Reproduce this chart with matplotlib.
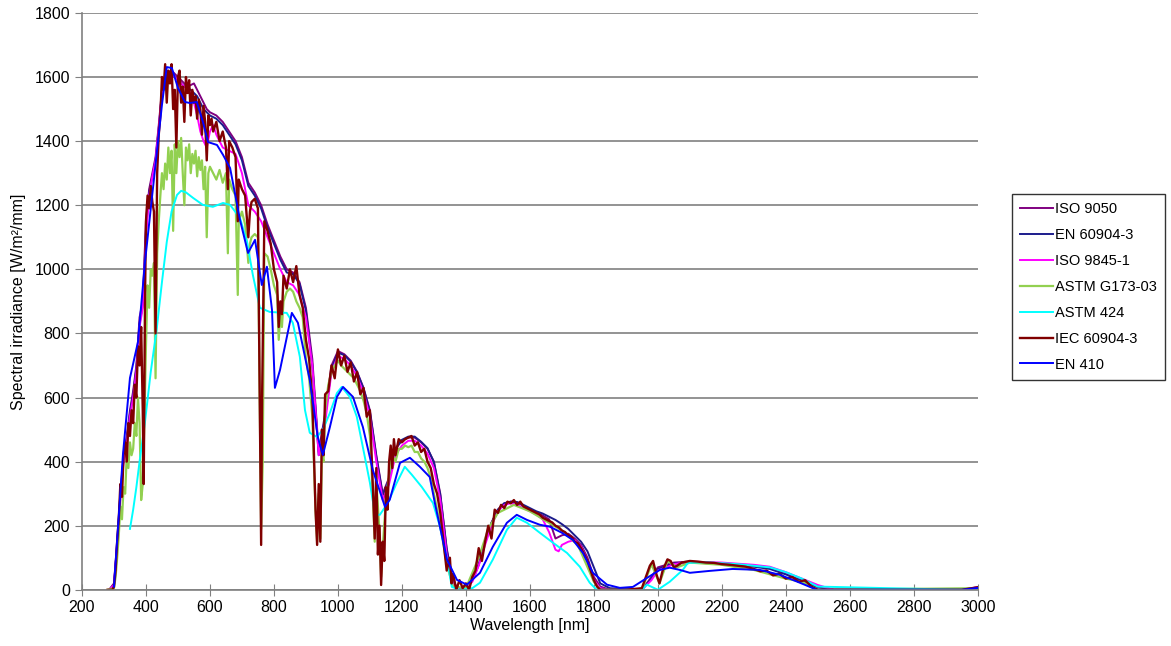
import matplotlib.pyplot as plt

plt.rcParams['font.family'] = ['Liberation Sans', 'DejaVu Sans']

# ISO 9050
iso9050_wl = [285, 300, 310, 320, 330, 340, 350, 360, 370, 380,
              390, 400, 410, 420, 430, 440, 450, 460, 470, 480,
              490, 500, 510, 520, 530, 540, 550, 560, 570, 580,
              590, 600, 620, 640, 660, 680, 700, 720, 740, 760,
              780, 800, 820, 840, 860, 880, 900, 920, 940, 960,
              980, 1000, 1020, 1040, 1060, 1080, 1100, 1120, 1140, 1160,
              1180, 1200, 1220, 1240, 1260, 1280, 1300, 1320, 1340, 1360,
              1380, 1400, 1420, 1440, 1460, 1480, 1500, 1520, 1540, 1560,
              1580, 1600, 1620, 1640, 1660, 1680, 1700, 1720, 1740, 1760,
              1780, 1800, 1820, 1850, 1950, 1980, 2000, 2050, 2100, 2200,
              2300, 2350, 2400, 2450, 2500, 2550, 2950, 3000]
iso9050_val = [0, 20, 150, 300, 420, 480, 560, 620, 700, 850,
               900, 1150, 1250, 1300, 1350, 1450, 1560, 1600, 1610, 1620,
               1610, 1600, 1590, 1580, 1570, 1575, 1580, 1560, 1540, 1520,
               1500, 1490, 1480, 1460, 1430, 1400, 1350, 1270, 1240, 1200,
               1140, 1090, 1040, 1000, 990, 960, 880, 720, 430, 550,
               700, 745, 735, 715, 680, 630, 560, 420, 300, 350,
               440, 465, 475, 475, 460, 440, 400, 300, 130, 20,
               5, 10, 30, 80, 150, 210, 250, 270, 275, 272,
               262, 250, 240, 232, 220, 160, 170, 175, 160, 140,
               100, 40, 10, 0, 0, 40, 70, 85, 88, 82,
               75, 68, 50, 30, 10, 0, 0, 8]

# EN 60904-3
en60904_wl = [285, 300, 310, 320, 330, 340, 350, 360, 370, 380,
              390, 400, 410, 420, 430, 440, 450, 460, 470, 480,
              490, 500, 520, 540, 560, 580, 600, 620, 640, 660,
              680, 700, 720, 740, 760, 780, 800, 820, 840, 860,
              880, 900, 920, 940, 960, 980, 1000, 1020, 1040, 1060,
              1080, 1100, 1120, 1140, 1160, 1180, 1200, 1220, 1240, 1260,
              1280, 1300, 1320, 1340, 1360, 1380, 1400, 1420, 1440, 1460,
              1480, 1500, 1520, 1540, 1560, 1580, 1600, 1620, 1640, 1660,
              1680, 1700, 1720, 1740, 1760, 1780, 1800, 1820, 1850, 1950,
              1980, 2000, 2050, 2100, 2200, 2300, 2350, 2400, 2450, 2500,
              2550, 2950, 3000]
en60904_val = [0, 15, 140, 290, 410, 470, 550, 610, 690, 830,
               890, 1120, 1240, 1290, 1340, 1440, 1550, 1590, 1600, 1610,
               1600, 1590, 1570, 1560, 1540, 1500, 1480, 1470, 1450, 1420,
               1390, 1340, 1260, 1230, 1190, 1130, 1080, 1030, 990, 985,
               955, 870, 700, 420, 540, 690, 740, 732, 712, 678,
               628, 555, 415, 295, 345, 440, 468, 478, 478, 462,
               442, 398, 295, 125, 15, 3, 8, 28, 78, 148,
               208, 250, 270, 275, 274, 265, 255, 245, 238, 228,
               218, 205, 190, 170, 150, 120, 70, 20, 5, 0,
               35, 65, 82, 86, 80, 72, 65, 48, 28, 8,
               0, 0, 6]

# ISO 9845-1
iso9845_wl = [285, 300, 310, 320, 330, 340, 350, 360, 370, 380,
              390, 400, 410, 420, 430, 440, 450, 460, 470, 480,
              490, 500, 510, 520, 530, 540, 550, 560, 570, 580,
              590, 600, 610, 620, 640, 660, 680, 700, 720, 740,
              760, 780, 800, 820, 840, 860, 880, 900, 920, 940,
              960, 980, 1000, 1020, 1040, 1060, 1080, 1100, 1120, 1140,
              1160, 1180, 1200, 1220, 1240, 1260, 1280, 1300, 1320, 1340,
              1360, 1380, 1400, 1420, 1440, 1460, 1480, 1500, 1520, 1540,
              1560, 1580, 1600, 1620, 1640, 1660, 1680, 1690, 1700, 1720,
              1740, 1760, 1780, 1800, 1820, 1850, 1950, 1980, 2000, 2050,
              2100, 2200, 2300, 2350, 2400, 2450, 2500, 2550, 2950, 3000]
iso9845_val = [0, 15, 140, 280, 400, 460, 540, 600, 680, 820,
               880, 1100, 1230, 1290, 1340, 1440, 1550, 1590, 1600, 1610,
               1600, 1590, 1580, 1570, 1560, 1550, 1520, 1480, 1430, 1400,
               1380, 1430, 1450, 1420, 1380, 1370, 1360, 1300, 1200, 1180,
               1150, 1100, 1050, 1000, 960, 950, 920, 850, 700, 420,
               520, 680, 730, 720, 700, 665, 615, 540, 400, 280,
               330, 420, 450, 465, 465, 450, 425, 380, 280, 110,
               15, 0, 5, 25, 75, 140, 200, 245, 265, 270,
               265, 255, 245, 235, 220, 180, 125, 120, 140, 150,
               155, 135, 90, 30, 5, 0, 0, 30, 60, 80,
               88, 85, 78, 72, 55, 35, 15, 0, 0, 8]

# ASTM G173-03
astm173_wl = [280, 300, 305, 310, 315, 320, 325, 330, 335, 340,
              345, 350, 355, 360, 365, 370, 375, 380, 385, 390,
              395, 400, 405, 410, 415, 420, 425, 430, 435, 440,
              445, 450, 455, 460, 465, 470, 475, 480, 485, 490,
              495, 500, 505, 510, 515, 520, 525, 530, 535, 540,
              545, 550, 555, 560, 565, 570, 575, 580, 585, 590,
              595, 600, 610, 620, 630, 640, 650, 656, 660, 670,
              680, 687, 690, 700, 710, 720, 725, 730, 740, 750,
              760, 765, 770, 780, 790, 800, 810, 815, 820, 825,
              830, 840, 850, 860, 870, 880, 890, 900, 910, 920,
              930, 935, 940, 945, 950, 955, 960, 970, 980, 990,
              1000, 1010, 1020, 1030, 1040, 1050, 1060, 1070, 1080, 1090,
              1100, 1110, 1115, 1120, 1130, 1135, 1140, 1150, 1160, 1170,
              1180, 1190, 1200, 1210, 1220, 1230, 1240, 1250, 1260, 1270,
              1280, 1290, 1300, 1320, 1340, 1360, 1400, 1440, 1470, 1500,
              1550, 1600, 1650, 1700, 1750, 1800, 1820, 1950, 1980, 2005,
              2030, 2060, 2100, 2200, 2300, 2400, 2450, 2500, 3000]
astm173_val = [0, 5, 40, 100, 170, 260, 220, 320, 300, 420,
               380, 460, 420, 440, 520, 480, 600, 520, 280, 330,
               520, 760, 950, 880, 1000, 980, 1020, 660, 1050, 1150,
               1230, 1300, 1250, 1330, 1280, 1380, 1300, 1370, 1120, 1390,
               1300, 1400, 1350, 1410, 1300, 1200, 1380, 1340, 1390, 1300,
               1360, 1330, 1370, 1290, 1350, 1310, 1340, 1250, 1320, 1100,
               1300, 1320, 1300, 1280, 1310, 1270, 1300, 1050, 1280, 1250,
               1230, 920, 1150, 1180, 1140, 1020, 1080, 1100, 1110, 1100,
               190, 400, 1050, 1040, 1000, 950, 920, 780, 860, 820,
               900, 930, 940, 930, 900, 880, 850, 720, 660, 540,
               250, 150, 300, 160, 420, 400, 560, 640, 680, 700,
               715, 700, 690, 680, 670, 660, 640, 620, 590, 550,
               480, 280, 150, 340, 180, 40, 130, 280, 360, 420,
               400, 440, 440, 450, 445, 450, 430, 430, 410, 400,
               380, 350, 300, 200, 80, 10, 5, 100, 190, 240,
               265, 245, 215, 185, 140, 25, 0, 0, 80, 20,
               90, 70, 85, 78, 62, 35, 25, 0, 5]

# ASTM 424
astm424_wl = [350, 360, 370, 380, 397, 415, 434, 450, 465, 480,
              497, 510, 525, 547, 578, 609, 641, 663, 694, 716,
              734, 756, 787, 840, 859, 881, 897, 912, 934, 953,
              975, 997, 1012, 1037, 1059, 1084, 1100, 1116, 1131, 1156,
              1184, 1209, 1231, 1262, 1297, 1319, 1341, 1356, 1381, 1420,
              1444, 1484, 1528, 1559, 1591, 1631, 1672, 1716, 1756, 1787,
              1809, 1950, 1966, 2000, 2037, 2078, 2094, 2150, 2250, 2350,
              2400, 2450, 2500, 2950, 3000]
astm424_val = [190, 250, 320, 400, 524, 680, 817, 960, 1085, 1180,
               1232, 1245, 1240, 1223, 1201, 1195, 1207, 1201, 1160, 1085,
               983, 880, 867, 864, 833, 727, 561, 490, 477, 499,
               552, 614, 633, 602, 540, 415, 334, 234, 234, 271,
               334, 384, 359, 321, 271, 197, 94, 9, 0, 5,
               22, 94, 187, 225, 209, 178, 147, 115, 72, 22,
               0, 0, 16, 0, 25, 62, 84, 86, 80, 70,
               55, 35, 10, 0, 6]

# IEC 60904-3
iec60904_wl = [280, 295, 300, 305, 310, 315, 320, 325, 330, 335,
               340, 345, 350, 355, 360, 365, 370, 375, 380, 385,
               390, 393, 397, 400, 405, 410, 415, 420, 425, 430,
               435, 440, 445, 450, 455, 460, 465, 470, 475, 480,
               485, 490, 495, 500, 505, 510, 515, 520, 525, 530,
               535, 540, 545, 550, 555, 560, 565, 570, 575, 580,
               585, 590, 595, 600, 605, 610, 620, 630, 640, 650,
               656, 660, 670, 680, 687, 690, 700, 710, 720, 725,
               730, 740, 750, 760, 763, 770, 780, 790, 800, 810,
               815, 820, 825, 830, 840, 850, 860, 870, 880, 890,
               900, 910, 920, 930, 935, 940, 945, 950, 955, 960,
               970, 980, 990, 1000, 1010, 1020, 1030, 1040, 1050, 1060,
               1070, 1080, 1090, 1100, 1110, 1115, 1120, 1125, 1130, 1135,
               1140, 1145, 1150, 1155, 1160, 1165, 1170, 1175, 1180, 1190,
               1200, 1210, 1220, 1230, 1240, 1250, 1260, 1270, 1280, 1290,
               1300, 1310, 1320, 1330, 1340, 1350, 1355, 1360, 1370, 1380,
               1390, 1400, 1410, 1420, 1430, 1440, 1450, 1460, 1470, 1480,
               1490, 1500, 1510, 1520, 1530, 1540, 1550, 1560, 1570, 1580,
               1590, 1600, 1610, 1620, 1630, 1640, 1650, 1660, 1670, 1680,
               1690, 1700, 1710, 1720, 1730, 1740, 1750, 1760, 1770, 1780,
               1790, 1800, 1810, 1820, 1900, 1950, 1975, 1985, 1995, 2005,
               2015, 2030, 2040, 2050, 2060, 2075, 2100, 2125, 2150, 2175,
               2200, 2225, 2250, 2275, 2300, 2320, 2340, 2360, 2380, 2400,
               2420, 2440, 2460, 2480, 2500, 2950, 3000]
iec60904_val = [0, 0, 10, 60, 150, 220, 330, 290, 420, 460,
                400, 520, 480, 560, 520, 640, 600, 760, 700, 820,
                560, 330, 900, 1150, 1230, 1190, 1260, 1210, 1180, 800,
                1300, 1420, 1480, 1600, 1560, 1640, 1520, 1620, 1580, 1640,
                1500, 1560, 1380, 1600, 1620, 1520, 1570, 1460, 1600, 1550,
                1590, 1480, 1560, 1520, 1540, 1470, 1530, 1500, 1420, 1510,
                1460, 1340, 1480, 1450, 1470, 1430, 1460, 1400, 1430, 1380,
                1250, 1400, 1380, 1350, 1150, 1280, 1250, 1230, 1100, 1180,
                1210, 1220, 1190, 140, 600, 1150, 1120, 1080, 1000, 960,
                820, 900, 860, 980, 940, 1000, 960, 1010, 920, 880,
                780, 720, 600, 250, 140, 330, 150, 500, 420, 610,
                620, 700, 660, 750, 700, 730, 680, 710, 650, 680,
                610, 630, 540, 560, 300, 160, 380, 110, 200, 15,
                150, 90, 320, 250, 400, 450, 380, 470, 420, 470,
                460, 470, 475, 480, 450, 460, 430, 440, 400, 380,
                330, 300, 240, 150, 60, 100, 20, 50, 0, 30,
                5, 20, 0, 40, 60, 130, 90, 150, 200, 160,
                250, 240, 265, 255, 275, 270, 280, 265, 275, 260,
                255, 250, 245, 240, 235, 225, 220, 215, 210, 200,
                195, 185, 180, 170, 165, 150, 145, 130, 110, 90,
                60, 30, 10, 0, 0, 5, 75, 90, 50, 20,
                60, 95, 90, 70, 75, 85, 90, 88, 85, 84,
                80, 78, 75, 72, 65, 58, 60, 45, 50, 35,
                40, 25, 30, 10, 0, 0, 8]

# EN 410
en410_wl = [300, 328, 350, 375, 397, 422, 450, 465, 481, 500,
            522, 537, 559, 578, 594, 622, 641, 663, 694, 719,
            741, 762, 778, 794, 803, 819, 856, 875, 912, 937,
            953, 975, 997, 1016, 1047, 1078, 1109, 1147, 1162, 1194,
            1225, 1256, 1287, 1303, 1341, 1372, 1403, 1444, 1484, 1528,
            1559, 1591, 1631, 1662, 1700, 1734, 1766, 1797, 1841, 1881,
            1922, 1966, 2006, 2037, 2069, 2100, 2162, 2234, 2319, 2381,
            2444, 2497, 2950, 3000]
en410_val = [10, 421, 661, 773, 1023, 1254, 1513, 1631, 1628, 1566,
             1522, 1519, 1522, 1460, 1397, 1388, 1357, 1316, 1154, 1051,
             1092, 951, 1008, 873, 630, 686, 864, 833, 655, 477,
             421, 508, 602, 633, 602, 508, 374, 259, 281, 396,
             412, 384, 352, 271, 94, 31, 16, 53, 134, 209,
             234, 218, 203, 197, 178, 156, 115, 53, 16, 6,
             9, 37, 62, 69, 62, 53, 59, 65, 62, 47,
             22, 0, 0, 6]

names = ['ISO 9050', 'EN 60904-3', 'ISO 9845-1', 'ASTM G173-03', 'ASTM 424', 'IEC 60904-3', 'EN 410']
wls = [iso9050_wl, en60904_wl, iso9845_wl, astm173_wl, astm424_wl, iec60904_wl, en410_wl]
vals = [iso9050_val, en60904_val, iso9845_val, astm173_val, astm424_val, iec60904_val, en410_val]
colors = ['#800080', '#1c1c8c', '#ff00ff', '#92d050', '#00ffff', '#800000', '#0000ff']
widths = [1.4, 1.4, 1.4, 1.6, 1.4, 1.7, 1.4]

fig = plt.figure(figsize=(11.71, 6.46), dpi=100)
ax = fig.add_axes([0.070, 0.087, 0.765, 0.893])

for wl, v, c, lw, n in zip(wls, vals, colors, widths, names):
    ax.plot(wl, v, color=c, lw=lw, label=n)

ax.set_xlim(200, 3000)
ax.set_ylim(0, 1800)
ax.set_xticks(range(200, 3001, 200))
ax.set_yticks(range(0, 1801, 200))
ax.yaxis.grid(True, color='#808080', lw=1.2)
ax.set_axisbelow(True)
for s in ['top', 'right']:
    ax.spines[s].set_visible(False)
for s in ['left', 'bottom']:
    ax.spines[s].set_color('#808080')
    ax.spines[s].set_linewidth(1.2)
ax.tick_params(axis='both', direction='out', color='#808080', length=5, labelsize=11.5)
ax.tick_params(axis='x', direction='inout', length=8)
ax.set_xlabel('Wavelength [nm]', fontsize=11.5, labelpad=2)
ax.set_ylabel('Spectral irradiance [W/m²/mm]', fontsize=11.5, labelpad=6)

fig.legend(loc='upper left', bbox_to_anchor=(0.864, 0.700), fontsize=10.5, frameon=True,
           fancybox=False, edgecolor='black', handlelength=2.3, handletextpad=0.15,
           labelspacing=0.82, borderpad=0.55, borderaxespad=0)

fig.savefig('out.png', dpi=100)
